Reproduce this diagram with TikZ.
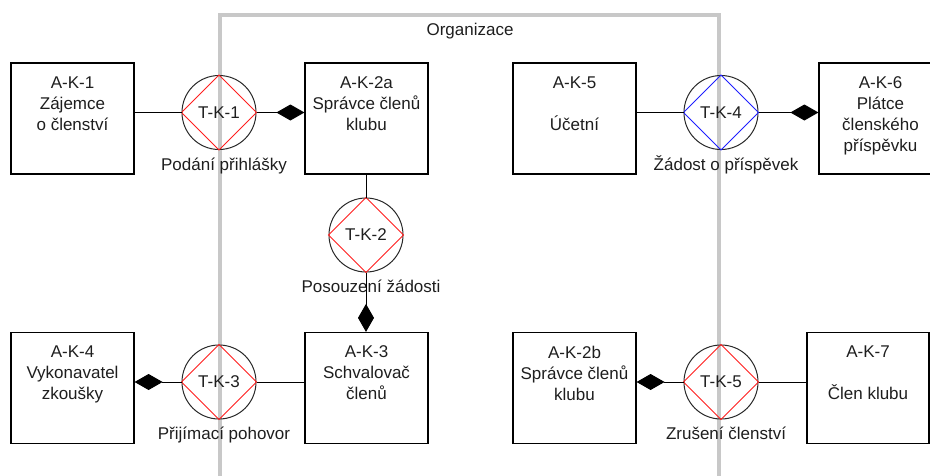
\documentclass[tikz,border=0pt]{standalone}
\usepackage{fontspec}
\setmainfont{Liberation Sans}
\usetikzlibrary{arrows.meta,calc}
\definecolor{orgline}{RGB}{200,200,200}
\definecolor{circline}{RGB}{40,40,40}
\definecolor{txcol}{RGB}{30,30,30}
\definecolor{tred}{RGB}{255,30,30}
\definecolor{tblue}{RGB}{30,30,255}
\begin{document}
\begin{tikzpicture}[x=1pt,y=-1pt,
  every node/.style={font=\fontsize{17}{21}\selectfont, text=txcol},
  actor/.style={draw=black, line width=1.2pt, minimum width=123pt, minimum height=111pt, inner sep=0pt},
  actortext/.style={anchor=north, inner sep=0pt, align=center},
  trans/.style={draw=circline, line width=1pt, circle, minimum size=74pt, inner sep=0pt},
  tlabel/.style={anchor=base, inner sep=0pt},
  link/.style={draw=black, line width=1pt},
  owner/.style={link, -{Diamond[length=28pt,width=16pt]}}
]
\useasboundingbox (0,0) rectangle (930,475);
\clip (0,0) rectangle (930,475);
% organisation boundary
\coordinate (bl) at (220,476);
\coordinate (tl) at (220,15);
\coordinate (tr) at (719,15);
\coordinate (br) at (719,476);
\draw[orgline, line width=3.5pt] (bl) -- (tl) -- (tr) -- (br);
\node[tlabel] (org) at (470,35) {Organizace};

% actors
\node[actor] (ak1) at (72.5,118.5) {};
\node[actor] (ak2a) at (366.5,118.5) {};
\node[actor] (ak5) at (574.5,118.5) {};
\node[actor] (ak6) at (880.5,118.5) {};
\node[actor] (ak4) at (72.5,388) {};
\node[actor] (ak3) at (366.5,388) {};
\node[actor] (ak2b) at (574.5,388) {};
\node[actor, minimum width=122pt] (ak7) at (868,388) {};

\node[actortext] (ak1t) at ($(ak1.north)+(0,13.8)$) {A-K-1\\Zájemce\\o členství};
\node[actortext] (ak2at) at ($(ak2a.north)+(0,13.8)$) {A-K-2a\\Správce členů\\klubu};
\node[actortext] (ak5t) at ($(ak5.north)+(0,13.8)$) {A-K-5\\\mbox{}\\Účetní};
\node[actortext] (ak6t) at ($(ak6.north)+(0,13.8)$) {A-K-6\\Plátce\\členského\\příspěvku};
\node[actortext] (ak4t) at ($(ak4.north)+(0,13.8)$) {A-K-4\\Vykonavatel\\zkoušky};
\node[actortext] (ak3t) at ($(ak3.north)+(0,13.8)$) {A-K-3\\Schvalovač\\členů};
\node[actortext] (ak2bt) at ($(ak2b.north)+(0,13.8)$) {A-K-2b\\Správce členů\\klubu};
\node[actortext] (ak7t) at ($(ak7.north)+(0,13.8)$) {A-K-7\\\mbox{}\\Člen klubu};

% transactions
\foreach \n/\x/\y/\c/\t in {tk1/219/112.5/tred/T-K-1, tk4/721/112.5/tblue/T-K-4, tk2/366/235/tred/T-K-2, tk3/219/382/tred/T-K-3, tk5/721/382/tred/T-K-5}{
  \node[trans] (\n) at (\x,\y) {\t};
  \draw[\c, line width=1pt] (\n.north) -- (\n.east) -- (\n.south) -- (\n.west) -- cycle;
}
\node[tlabel] (tk1l) at ($(tk1)+(5,57.5)$) {Podání přihlášky};
\node[tlabel] (tk4l) at ($(tk4)+(5,57.5)$) {Žádost o příspěvek};
\node[tlabel] (tk2l) at ($(tk2)+(5,57.5)$) {Posouzení žádosti};
\node[tlabel] (tk3l) at ($(tk3)+(5,57.5)$) {Přijímací pohovor};
\node[tlabel] (tk5l) at ($(tk5)+(5,57.5)$) {Zrušení členství};

% connectors
\draw[link] (tk1.west) -- (ak1.east |- tk1.west);
\draw[owner] (tk1.east) -- (ak2a.west |- tk1.east);
\draw[link] (tk4.west) -- (ak5.east |- tk4.west);
\draw[owner] (tk4.east) -- (ak6.west |- tk4.east);
\draw[link] (ak2a.south -| tk2.north) -- (tk2.north);
\draw[owner] (tk2.south) -- (ak3.north -| tk2.south);
\draw[link] (tk3.east) -- (ak3.west |- tk3.east);
\draw[owner] (tk3.west) -- (ak4.east |- tk3.west);
\draw[link] (tk5.east) -- (ak7.west |- tk5.east);
\draw[owner] (tk5.west) -- (ak2b.east |- tk5.west);
\end{tikzpicture}
\end{document}
